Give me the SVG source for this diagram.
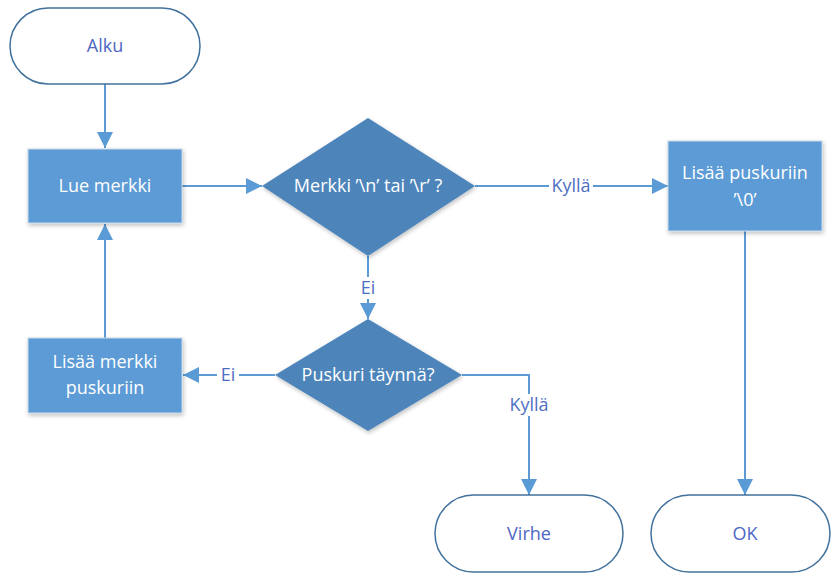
<svg xmlns="http://www.w3.org/2000/svg" width="832" height="574" viewBox="0 0 832 574">
<style>
.term{fill:#fff;stroke:#41719c;stroke-width:1.5}
.box{fill:#5b9bd5;stroke:#c9d9ea;stroke-width:1}
.dia{fill:#4d85bb;stroke:none}
.wt{font-family:"Open Sans","Noto Sans",sans-serif;font-size:18px;fill:#fff;text-anchor:middle}
.tt{font-family:"Open Sans","Noto Sans",sans-serif;font-size:18px;fill:#4d67c4;text-anchor:middle}
.lbl{font-family:"Open Sans","Noto Sans",sans-serif;font-size:18px;fill:#4d6fc2;text-anchor:middle}
.ln{fill:none;stroke:#5b9bd5;stroke-width:2}
.bg{fill:#fff}
</style>
<defs>
<marker id="a" viewBox="0 0 16 16" refX="16" refY="8" markerWidth="16" markerHeight="16" markerUnits="userSpaceOnUse" orient="auto">
<path d="M0,0 L16,8 L0,16 z" fill="#5b9bd5"/>
</marker>
<filter id="sh" x="-10%" y="-10%" width="125%" height="130%">
<feGaussianBlur in="SourceAlpha" stdDeviation="2"/>
<feOffset dx="1" dy="2" result="b"/>
<feComponentTransfer><feFuncA type="linear" slope="0.25"/></feComponentTransfer>
<feMerge><feMergeNode/><feMergeNode in="SourceGraphic"/></feMerge>
</filter>
</defs>
<g id="connectors">
<path class="ln" d="M105,84 V148" marker-end="url(#a)"/>
<path class="ln" d="M182,186 H262" marker-end="url(#a)"/>
<path class="ln" d="M475,186 H668" marker-end="url(#a)"/>
<path class="ln" d="M368,256 V319" marker-end="url(#a)"/>
<path class="ln" d="M275,375 H183" marker-end="url(#a)"/>
<path class="ln" d="M105,338 V224" marker-end="url(#a)"/>
<path class="ln" d="M462,375 H529 V495" marker-end="url(#a)"/>
<path class="ln" d="M745,231 V495" marker-end="url(#a)"/>
<rect class="bg" x="549" y="175" width="44" height="22"/>
<text class="lbl" x="571" y="192">Kyllä</text>
<rect class="bg" x="357" y="277" width="22" height="22"/>
<text class="lbl" x="368" y="294">Ei</text>
<rect class="bg" x="217" y="364" width="22" height="22"/>
<text class="lbl" x="228" y="381">Ei</text>
<rect class="bg" x="507" y="394" width="44" height="22"/>
<text class="lbl" x="529" y="411">Kyllä</text>
</g>
<g id="alku">
<rect class="term" x="10" y="8" width="190" height="76" rx="38" ry="38"/>
<text class="tt" x="105" y="52">Alku</text>
</g>
<g id="lue">
<rect class="box" x="28" y="149" width="154" height="74" filter="url(#sh)"/>
<text class="wt" x="105" y="192">Lue merkki</text>
</g>
<g id="merkki">
<polygon class="dia" points="368,118 475,186 368,256 262,186" filter="url(#sh)"/>
<text class="wt" x="368" y="192">Merkki ’\n’ tai ’\r’ ?</text>
</g>
<g id="lisaa0">
<rect class="box" x="668" y="141" width="154" height="90" filter="url(#sh)"/>
<text class="wt" x="745" y="179">Lisää puskuriin</text>
<text class="wt" x="745" y="206">’\0’</text>
</g>
<g id="puskuri">
<polygon class="dia" points="368,319 462,375 368,431 275,375" filter="url(#sh)"/>
<text class="wt" x="368" y="381">Puskuri täynnä?</text>
</g>
<g id="lisaamerkki">
<rect class="box" x="28" y="338" width="154" height="75" filter="url(#sh)"/>
<text class="wt" x="105" y="368">Lisää merkki</text>
<text class="wt" x="105" y="394">puskuriin</text>
</g>
<g id="virhe">
<rect class="term" x="435" y="495" width="188" height="77" rx="38.5" ry="38.5"/>
<text class="tt" x="529" y="540">Virhe</text>
</g>
<g id="ok">
<rect class="term" x="651" y="495" width="179" height="77" rx="38.5" ry="38.5"/>
<text class="tt" x="745" y="540">OK</text>
</g>
</svg>
